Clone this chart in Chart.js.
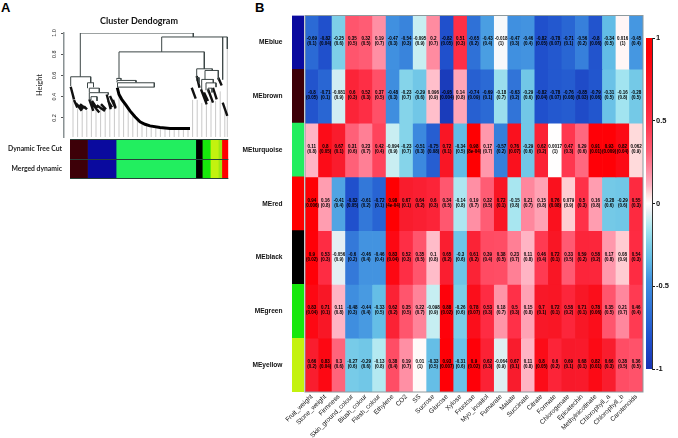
<!DOCTYPE html>
<html>
<head>
<meta charset="utf-8">
<title>Cluster dendrogram and module-trait heatmap</title>
<script src="https://cdn.jsdelivr.net/npm/chart.js@4"></script>
<style>
  body { margin: 0; background: #fff; width: 678px; height: 438px; overflow: hidden; position: relative; }
  canvas { position: absolute; }
  .panel { position: absolute; font: bold 13px "Liberation Sans", sans-serif; color: #000; }
</style>
</head>
<body>
<div class="panel" style="left:1px;top:0">A</div>
<div class="panel" style="left:255px;top:0">B</div>
<canvas id="dendro" width="278" height="139" style="left:0;top:0"></canvas>
<canvas id="bands" width="240" height="50" style="left:0;top:135px"></canvas>
<canvas id="strip" width="66" height="400" style="left:240px;top:0"></canvas>
<canvas id="heat" width="440" height="438" style="left:230px;top:0"></canvas>
<canvas id="legend" width="48" height="360" style="left:630px;top:20px"></canvas>
<script>
// Heatmap data
const modules = ["MEblue", "MEbrown", "MEturquoise", "MEred", "MEblack", "MEgreen", "MEyellow"];
const moduleColors = ["#0a0a9e", "#3d0008", "#22ee5f", "#ff0000", "#000000", "#17e80c", "#c3f20f"];
const traits = ["Fruit_weight", "Stone_weight", "Firmness", "Skin_ground_colour", "Blush_colour", "Flesh_colour",
  "Ethylene", "CO2", "SS", "Sucrose", "Glucose", "Xylose", "Fructose", "Myo_inositol", "Fumarate", "Malate",
  "Succinate", "Citrate", "Formate", "Chlorogenate", "Epicatechin", "Methylnicotinate", "Chlorophyll_a",
  "Chlorophyll_b", "Carotenoids"];

const corrBlue = [-0.69, -0.82, -0.25, 0.35, 0.32, 0.19, -0.47, -0.54, -0.095, 0.2, -0.82, 0.51, -0.65, -0.43, -0.018, -0.47, -0.46, -0.82, -0.78, -0.71, -0.56, -0.8, -0.34, 0.016, -0.45];
const corrBrown = [-0.8, -0.71, -0.081, 0.6, 0.52, 0.37, -0.48, -0.23, -0.29, 0.096, -0.95, 0.14, -0.74, -0.69, -0.18, -0.63, -0.29, -0.82, -0.78, -0.76, -0.85, -0.79, -0.31, -0.16, -0.28];
const corrTurquoise = [0.11, 0.8, 0.67, 0.31, 0.23, 0.42, -0.094, -0.23, -0.51, -0.75, 0.72, -0.34, 0.98, 0.17, -0.57, 0.76, -0.29, 0.62, 0.0017, 0.47, 0.29, 0.91, 0.93, 0.82, 0.062];
const corrRed = [0.94, 0.16, -0.41, -0.82, -0.61, -0.72, 0.98, 0.67, 0.64, 0.6, 0.34, -0.14, 0.19, 0.32, 0.72, -0.15, 0.21, 0.15, 0.76, 0.079, 0.5, 0.16, -0.28, -0.29, 0.55];
const corrBlack = [0.9, 0.53, -0.056, -0.6, -0.46, -0.46, 0.83, 0.52, 0.35, 0.1, 0.65, -0.3, 0.61, 0.39, 0.38, 0.23, 0.11, 0.46, 0.72, 0.33, 0.59, 0.58, 0.17, 0.08, 0.54];
const corrGreen = [0.83, 0.71, 0.11, -0.48, -0.44, -0.33, 0.62, 0.35, 0.22, -0.098, 0.88, -0.26, 0.78, 0.53, 0.18, 0.5, 0.15, 0.7, 0.72, 0.58, 0.71, 0.78, 0.35, 0.21, 0.46];
const corrYellow = [0.66, 0.83, 0.3, -0.27, -0.29, -0.13, 0.38, 0.19, 0.01, -0.33, 0.93, -0.31, 0.9, 0.62, -0.064, 0.67, 0.11, 0.8, 0.6, 0.69, 0.68, 0.82, 0.66, 0.38, 0.36];

const pBlue = [0.1, 0.04, 0.6, 0.5, 0.5, 0.7, 0.3, 0.3, 0.9, 0.7, 0.05, 0.3, 0.2, 0.4, 1, 0.3, 0.4, 0.05, 0.07, 0.1, 0.2, 0.06, 0.5, 1, 0.4];
const pBrown = [0.05, 0.1, 0.9, 0.3, 0.3, 0.5, 0.3, 0.7, 0.6, 0.9, 0.004, 0.8, 0.09, 0.1, 0.7, 0.2, 0.6, 0.04, 0.07, 0.08, 0.03, 0.06, 0.5, 0.8, 0.5];
const pTurquoise = [0.8, 0.05, 0.1, 0.6, 0.7, 0.4, 0.9, 0.7, 0.3, 0.08, 0.1, 0.5, "8e-04", 0.7, 0.2, 0.07, 0.6, 0.2, 1, 0.3, 0.6, 0.01, 0.009, 0.04, 0.9];
const pRed = [0.006, 0.8, 0.4, 0.05, 0.2, 0.1, "4e-04", 0.1, 0.2, 0.3, 0.5, 0.8, 0.7, 0.5, 0.1, 0.8, 0.7, 0.8, 0.08, 0.9, 0.3, 0.8, 0.6, 0.6, 0.3];
const pBlack = [0.02, 0.3, 0.9, 0.2, 0.4, 0.4, 0.04, 0.3, 0.5, 0.8, 0.2, 0.6, 0.2, 0.4, 0.5, 0.7, 0.8, 0.4, 0.1, 0.5, 0.2, 0.2, 0.8, 0.9, 0.3];
const pGreen = [0.04, 0.1, 0.8, 0.3, 0.4, 0.5, 0.2, 0.5, 0.7, 0.9, 0.02, 0.6, 0.07, 0.3, 0.7, 0.3, 0.8, 0.1, 0.1, 0.2, 0.1, 0.06, 0.5, 0.7, 0.4];
const pYellow = [0.2, 0.04, 0.6, 0.6, 0.6, 0.8, 0.4, 0.7, 1, 0.5, 0.007, 0.6, 0.02, 0.3, 0.9, 0.1, 0.8, 0.05, 0.2, 0.1, 0.1, 0.01, 0.3, 0.5, 0.5];

const corrRows = [corrBlue, corrBrown, corrTurquoise, corrRed, corrBlack, corrGreen, corrYellow];
const pRows = [pBlue, pBrown, pTurquoise, pRed, pBlack, pGreen, pYellow];

// Colour key of the correlation
const keyValues = [-1, -0.82, -0.7, -0.47, -0.34, -0.25, -0.16, -0.095, -0.05, 0, 0.06, 0.11, 0.19, 0.32, 0.5, 0.7, 0.9, 1];
const keyColors = ["#1834b4", "#2050cc", "#2a68d4", "#4090e0", "#62bce6", "#7dcfe8", "#a2e4f0", "#c8eef2", "#e8eff4",
  "#ffffff", "#ffdcdc", "#ffb4c4", "#ff8fa4", "#ff5c74", "#ff3048", "#f81828", "#ff0008", "#ff0000"];
const keyTicks = [-1, -0.5, 0, 0.5, 1];

// Dendrogram, x is the leaf position and h the height
const heightTicks = [0.2, 0.4, 0.6, 0.8, 1.0];
const treeBrackets = [ // x1, x2, h, h at x1, h at x2
  [80.3, 193.3, 1, 0.5875, 0.9625], [161.7, 227.3, 0.9625, 0.822, 0.85], [222.7, 222.7, 0.9625, 0.56, 0.56],
  [119, 204.3, 0.822, 0.572, 0.6625],
  [70.7, 90.7, 0.5875, 0.5, 0.531], [87.5, 93.5, 0.531, 0.48, 0.49], [89.3, 99.3, 0.48, 0.44, 0.44],
  [89.3, 108.3, 0.4375, 0.37, 0.42], [91, 97, 0.4, 0.35, 0.36],
  [116.7, 121, 0.572, 0.56, 0.56], [117, 136, 0.553, 0.535, 0.535], [117.5, 154.3, 0.531, 0.49, 0.49], [117.5, 154.3, 0.49, 0.484, 0.49],
  [196.7, 212.3, 0.6625, 0.58, 0.647], [205, 218.3, 0.647, 0.56, 0.56], [201.7, 213.3, 0.5625, 0.47, 0.53],
  [206, 216, 0.53, 0.46, 0.49], [196.7, 199, 0.58, 0.55, 0.53], [208, 212, 0.48, 0.44, 0.44]
];
const curveX = [117.3, 119, 121.7, 126, 130, 135, 140, 145, 150, 160, 170, 180, 190];
const curveH = [0.484, 0.42, 0.375, 0.32, 0.266, 0.21, 0.1625, 0.14, 0.125, 0.11, 0.1, 0.1, 0.1];
const clusterStrokes = [ // x1, h1, x2, h2
  [70.7, 0.494, 74, 0.375], [74, 0.369, 77.3, 0.297], [76, 0.3375, 81.7, 0.266], [78, 0.32, 83, 0.28], [80, 0.328, 86, 0.2875], [84, 0.31, 87, 0.28],
  [89.3, 0.375, 93.3, 0.266], [91.7, 0.3375, 99.3, 0.25], [92, 0.36, 97, 0.29], [96.7, 0.319, 105, 0.266], [101, 0.33, 106, 0.28],
  [106.7, 0.42, 110.7, 0.281], [108, 0.36, 112, 0.3], [110, 0.406, 115.7, 0.2875], [113, 0.37, 115.5, 0.3],
  [191.7, 0.484, 195.7, 0.381], [196.7, 0.594, 199.5, 0.484], [201, 0.47, 206.7, 0.328], [204, 0.44, 208, 0.36],
  [208, 0.47, 213, 0.344], [213, 0.484, 216.7, 0.375], [218.3, 0.578, 221.7, 0.506], [222.7, 0.344, 227.3, 0.22]
];
const leafX = [73, 77.6, 82.2, 86.8, 91.4, 96, 100.6, 105.2, 109.8, 114.4,
  119, 123.6, 128.2, 132.8, 137.4, 142, 146.6, 151.2, 155.8, 160.4, 165, 169.6, 174.2, 178.8, 183.4, 188,
  192.6, 197.2, 201.8, 206.4, 211, 215.6, 220.2, 224.8, 227.3];
const leafTop = [0.4, 0.29, 0.27, 0.27, 0.3, 0.28, 0.29, 0.3, 0.3, 0.31,
  0.42, 0.35, 0.3, 0.24, 0.19, 0.16, 0.14, 0.12, 0.11, 0.11, 0.1, 0.1, 0.1, 0.1, 0.1, 0.1,
  0.37, 0.37, 0.34, 0.37, 0.36, 0.36, 0.45, 0.26, 0.85];

// Module sizes along the colour bands
const bandLabels = ["Dynamic Tree Cut", "Merged dynamic"];
const bandModules = [["#3d0008", 17.5], ["#0a0a9e", 28.5], ["#22ee5f", 79.5], ["#000000", 6.5], ["#17e80c", 8], ["#c3f20f", 8], ["#9be814", 3.5], ["#ff0000", 6.5]];

function corrColor(v) {
  let i = 0;
  while (i < keyValues.length - 2 && v > keyValues[i + 1]) i++;
  const t = (v - keyValues[i]) / (keyValues[i + 1] - keyValues[i]);
  const a = keyColors[i], b = keyColors[i + 1];
  const mix = k => {
    const p = parseInt(a.substr(k, 2), 16), q = parseInt(b.substr(k, 2), 16);
    return Math.round(p + (q - p) * t);
  };
  return `rgb(${mix(1)},${mix(3)},${mix(5)})`;
}

Chart.defaults.animation = false;
Chart.defaults.responsive = false;
Chart.defaults.plugins.legend.display = false;
Chart.defaults.plugins.tooltip.enabled = false;
Chart.defaults.color = "#000";

const LATO = "Lato, sans-serif";
const SANS = "'Liberation Sans', sans-serif";

// Dendrogram segments, null breaks the line
function bracketPoints() {
  const pts = [];
  treeBrackets.forEach(b => {
    pts.push({ x: b[0], y: b[3] }, { x: b[0], y: b[2] }, { x: b[1], y: b[2] }, { x: b[1], y: b[4] }, { x: b[1], y: null });
  });
  return pts;
}
function strokePoints() {
  const pts = [];
  clusterStrokes.forEach(s => pts.push({ x: s[0], y: s[1] }, { x: s[2], y: s[3] }, { x: s[2], y: null }));
  return pts;
}
function leafPoints() {
  const pts = [];
  leafX.forEach((x, i) => pts.push({ x: x, y: 0.02 }, { x: x, y: leafTop[i] }, { x: x, y: null }));
  return pts;
}

const lineStyle = { showLine: true, pointRadius: 0, tension: 0 };

// the height labels stand upright and centred on their ticks
const uprightTicks = {
  id: "uprightTicks",
  afterDraw(chart) {
    const s = chart.scales.y, ctx = chart.ctx;
    ctx.save();
    ctx.font = "5.5px " + SANS;
    ctx.fillStyle = "#222";
    ctx.textAlign = "center";
    ctx.textBaseline = "middle";
    heightTicks.forEach(t => {
      ctx.save();
      ctx.translate(54, s.getPixelForValue(t));
      ctx.rotate(-Math.PI / 2);
      ctx.fillText(t.toFixed(1), 0, 0);
      ctx.restore();
    });
    ctx.restore();
  }
};

new Chart("dendro", {
  type: "scatter",
  data: {
    datasets: [
      { data: bracketPoints(), borderColor: "#3c4646", borderWidth: 1, ...lineStyle },
      { data: curveX.map((x, i) => ({ x: x, y: curveH[i] })), borderColor: "#000", borderWidth: 3, ...lineStyle },
      { data: strokePoints(), borderColor: "#111", borderWidth: 2.4, ...lineStyle },
      { data: leafPoints(), borderColor: "#c9c9c9", borderWidth: 1, ...lineStyle }
    ]
  },
  options: {
    layout: { padding: { left: 0, right: 0, top: 0, bottom: 2 } },
    plugins: {
      title: { display: true, text: "Cluster Dendogram", font: { family: LATO, size: 9, weight: "bold" }, padding: { top: 16, bottom: 6.2 }, color: "#111" }
    },
    scales: {
      x: { type: "linear", display: false, min: 64, max: 278 },
      y: {
        min: 0.02, max: 1,
        afterFit: s => { s.width = 64; },
        afterBuildTicks: s => { s.ticks = heightTicks.map(v => ({ value: v })); },
        ticks: { display: false },
        grid: { drawOnChartArea: false, tickLength: 3, color: "#555" },
        border: { color: "#8a9294", width: 1.5 },
        title: { display: true, text: "Height", font: { family: LATO, size: 7.5 }, color: "#222", padding: { top: 35, bottom: 0 } }
      }
    }
  },
  plugins: [uprightTicks]
});

new Chart("bands", {
  type: "bar",
  data: {
    labels: bandLabels,
    datasets: bandModules.map(m => ({ data: bandLabels.map(() => m[1]), backgroundColor: m[0] }))
  },
  options: {
    indexAxis: "y",
    layout: { padding: { left: 0, right: 11.7, top: 4.5, bottom: 6.3 } },
    datasets: { bar: { barPercentage: 1, categoryPercentage: 1 } },
    scales: {
      x: { display: false, stacked: true, min: 0, max: 158 },
      y: {
        stacked: true,
        afterFit: s => { s.width = 70; },
        ticks: { font: { family: LATO, size: 6.8, weight: "bold" }, padding: 0, color: "#222" },
        grid: { z: 1, color: "#27423a", tickColor: "transparent", tickLength: 8 },
        border: { display: false }
      }
    }
  }
});

new Chart("strip", {
  type: "bar",
  data: { labels: modules, datasets: [{ data: modules.map(() => 1), backgroundColor: moduleColors }] },
  options: {
    indexAxis: "y",
    layout: { padding: { left: 0, right: 2, top: 15.5, bottom: 8 } },
    datasets: { bar: { barPercentage: 1, categoryPercentage: 1 } },
    scales: {
      x: { display: false, min: 0, max: 1 },
      y: {
        afterFit: s => { s.width = 52; },
        ticks: { font: { family: SANS, size: 6.6, weight: "bold" }, padding: 1.5, color: "#111" },
        grid: { display: false },
        border: { display: false }
      }
    }
  }
});

// r value and p value inside each cell, grey frame round the map
const cellText = {
  id: "cellText",
  afterDatasetsDraw(chart) {
    const ctx = chart.ctx, a = chart.chartArea;
    ctx.save();
    ctx.font = "bold 4.5px " + SANS;
    ctx.fillStyle = "#000";
    ctx.textAlign = "center";
    ctx.textBaseline = "middle";
    chart.data.datasets.forEach((ds, r) => {
      chart.getDatasetMeta(r).data.forEach((bar, c) => {
        const mid = (bar.y + bar.base) / 2;
        ctx.fillText(String(corrRows[r][c]), bar.x, mid - 3.2);
        ctx.fillText("(" + pRows[r][c] + ")", bar.x, mid + 1.8);
      });
    });
    ctx.strokeStyle = "#8d9a9e";
    ctx.lineWidth = 1;
    ctx.strokeRect(a.left, a.top, a.right - a.left, a.bottom - a.top);
    ctx.restore();
  }
};

new Chart("heat", {
  type: "bar",
  data: {
    labels: traits,
    datasets: modules.map((m, r) => ({
      label: m,
      data: traits.map(() => 1),
      backgroundColor: corrRows[r].map(corrColor)
    }))
  },
  options: {
    layout: { padding: { left: 75, right: 27, top: 15.5, bottom: 0 } },
    datasets: { bar: { barPercentage: 1, categoryPercentage: 1 } },
    scales: {
      x: {
        stacked: true,
        afterFit: s => { s.height = 46; },
        grid: { display: false, tickLength: 1 },
        border: { display: false },
        ticks: { autoSkip: false, minRotation: 45, maxRotation: 45, padding: 0, font: { family: SANS, size: 6.5 }, color: "#111" }
      },
      y: { display: false, stacked: true, reverse: true, min: 0, max: modules.length }
    }
  },
  plugins: [cellText]
});

new Chart("legend", {
  type: "bar",
  data: {
    labels: ["r"],
    datasets: [{
      data: [[keyTicks[0], keyTicks[keyTicks.length - 1]]],
      backgroundColor(c) {
        const a = c.chart.chartArea;
        if (!a) return "#fff";
        const g = c.chart.ctx.createLinearGradient(0, a.bottom, 0, a.top);
        keyValues.forEach((v, i) => g.addColorStop((v + 1) / 2, keyColors[i]));
        return g;
      }
    }]
  },
  options: {
    layout: { padding: { left: 16, right: 0, top: 18, bottom: 11 } },
    datasets: { bar: { barPercentage: 1, categoryPercentage: 1 } },
    scales: {
      x: { display: false },
      y: {
        position: "right",
        min: -1, max: 1,
        afterFit: s => { s.width = 26; },
        afterBuildTicks: s => { s.ticks = keyTicks.map(v => ({ value: v })); },
        ticks: { font: { family: SANS, size: 7.5, weight: "bold" }, padding: 1, color: "#111", callback: v => String(v) },
        grid: { drawOnChartArea: false, tickLength: 3, color: "#111" },
        border: { color: "#333", width: 1 }
      }
    }
  }
});
</script>
</body>
</html>
